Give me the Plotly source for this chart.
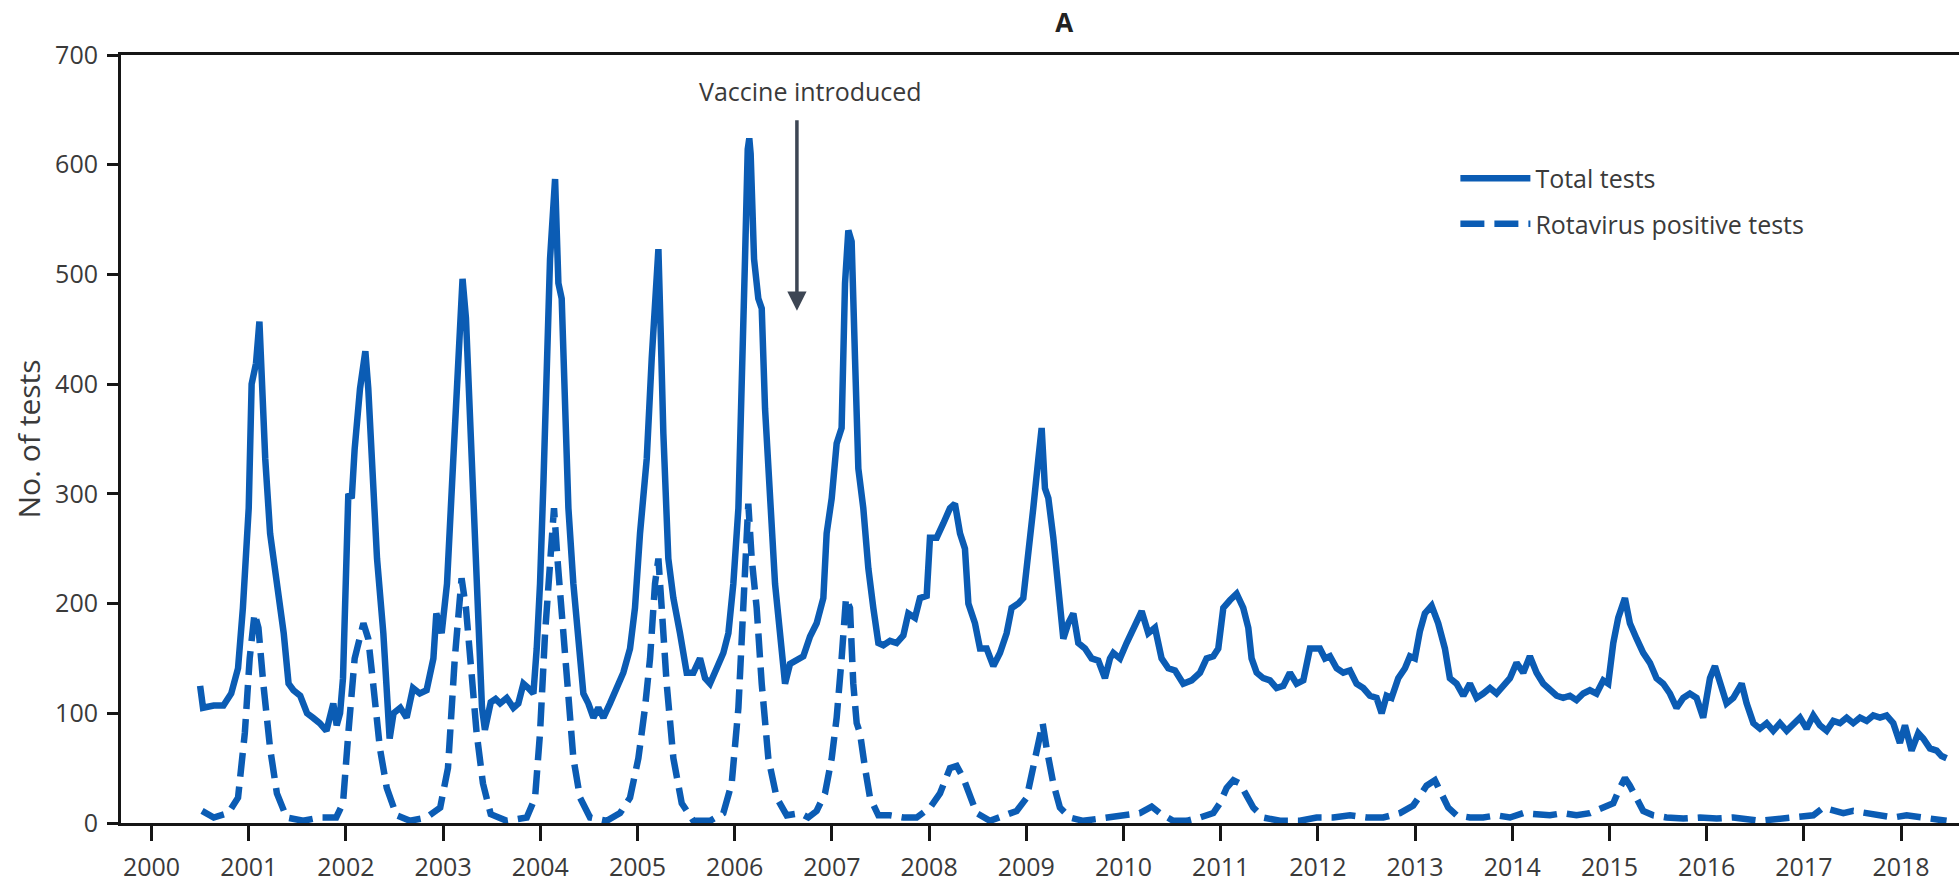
import plotly.graph_objects as go

# ---------------- data ----------------
years = list(range(2000, 2019))
y_ticks = [0, 100, 200, 300, 400, 500, 600, 700]

total_year = [
    2000.50, 2000.53, 2000.64, 2000.74, 2000.82, 2000.89, 2000.94, 2001.00, 2001.03, 2001.075,
    2001.11, 2001.13, 2001.17, 2001.22, 2001.29, 2001.36, 2001.41, 2001.46, 2001.53, 2001.60,
    2001.66, 2001.73, 2001.80, 2001.87, 2001.905, 2001.94, 2001.97, 2002.025, 2002.06, 2002.09,
    2002.145, 2002.20, 2002.23, 2002.265, 2002.32, 2002.385, 2002.45, 2002.49, 2002.56, 2002.625,
    2002.69, 2002.76, 2002.83, 2002.90, 2002.93, 2002.985, 2003.04, 2003.105, 2003.155, 2003.20,
    2003.235, 2003.27, 2003.31, 2003.36, 2003.40, 2003.43, 2003.49, 2003.54, 2003.586, 2003.654,
    2003.723, 2003.774, 2003.826, 2003.877, 2003.929, 2003.963, 2003.997, 2004.032, 2004.066, 2004.100,
    2004.152, 2004.186, 2004.220, 2004.254, 2004.289, 2004.340, 2004.392, 2004.443, 2004.494, 2004.546,
    2004.597, 2004.649, 2004.717, 2004.786, 2004.854, 2004.923, 2004.974, 2005.026, 2005.060, 2005.095,
    2005.146, 2005.191, 2005.215, 2005.239, 2005.266, 2005.317, 2005.369, 2005.437, 2005.506, 2005.575,
    2005.643, 2005.695, 2005.746, 2005.815, 2005.883, 2005.935, 2005.986, 2006.038, 2006.072, 2006.106,
    2006.134, 2006.150, 2006.164, 2006.199, 2006.243, 2006.278, 2006.312, 2006.363, 2006.415, 2006.466,
    2006.518, 2006.569, 2006.637, 2006.706, 2006.775, 2006.843, 2006.912, 2006.946, 2006.998, 2007.049,
    2007.100, 2007.135, 2007.169, 2007.203, 2007.238, 2007.272, 2007.323, 2007.375, 2007.426, 2007.478,
    2007.529, 2007.598, 2007.666, 2007.735, 2007.786, 2007.855, 2007.906, 2007.975, 2008.009, 2008.078,
    2008.146, 2008.215, 2008.266, 2008.318, 2008.369, 2008.404, 2008.472, 2008.524, 2008.592, 2008.661,
    2008.729, 2008.798, 2008.849, 2008.918, 2008.969, 2009.021, 2009.072, 2009.124, 2009.158, 2009.192,
    2009.227, 2009.278, 2009.329, 2009.381, 2009.432, 2009.484, 2009.535, 2009.604, 2009.672, 2009.741,
    2009.809, 2009.861, 2009.895, 2009.964, 2010.032, 2010.101, 2010.187, 2010.255, 2010.324, 2010.392,
    2010.461, 2010.530, 2010.615, 2010.701, 2010.787, 2010.855, 2010.924, 2010.975, 2011.027, 2011.095,
    2011.164, 2011.232, 2011.284, 2011.318, 2011.370, 2011.438, 2011.507, 2011.575, 2011.644, 2011.712,
    2011.781, 2011.850, 2011.918, 2011.970, 2012.021, 2012.073, 2012.124, 2012.193, 2012.261, 2012.330,
    2012.398, 2012.467, 2012.535, 2012.604, 2012.656, 2012.707, 2012.758, 2012.827, 2012.896, 2012.947,
    2012.998, 2013.050, 2013.101, 2013.170, 2013.238, 2013.307, 2013.358, 2013.427, 2013.496, 2013.564,
    2013.633, 2013.701, 2013.770, 2013.838, 2013.907, 2013.976, 2014.044, 2014.113, 2014.181, 2014.250,
    2014.319, 2014.387, 2014.456, 2014.524, 2014.593, 2014.661, 2014.730, 2014.799, 2014.867, 2014.936,
    2014.987, 2015.039, 2015.090, 2015.159, 2015.210, 2015.279, 2015.347, 2015.416, 2015.484, 2015.553,
    2015.622, 2015.690, 2015.759, 2015.827, 2015.896, 2015.964, 2016.034, 2016.085, 2016.137, 2016.205,
    2016.274, 2016.360, 2016.411, 2016.480, 2016.548, 2016.617, 2016.685, 2016.754, 2016.823, 2016.891,
    2016.960, 2017.028, 2017.097, 2017.165, 2017.234, 2017.303, 2017.371, 2017.440, 2017.508, 2017.577,
    2017.646, 2017.714, 2017.783, 2017.851, 2017.920, 2017.988, 2018.040, 2018.108, 2018.177, 2018.228,
    2018.297, 2018.366, 2018.417, 2018.468,
]
total_count = [
    125, 105, 107, 107, 118, 141, 196, 287, 400, 419,
    457, 414, 332, 264, 218, 173, 127, 121, 116, 100,
    96, 91, 84, 109, 89, 100, 132, 300, 296, 341,
    396, 430, 396, 332, 241, 173, 77, 100, 105, 96,
    123, 118, 121, 150, 191, 173, 218, 332, 423, 496,
    460, 378, 287, 173, 105, 85, 110, 113, 109, 114,
    105, 109, 127, 123, 118, 159, 218, 310, 423, 514,
    587, 492, 478, 378, 287, 218, 173, 118, 109, 96,
    105, 96, 109, 123, 137, 159, 196, 264, 291, 332,
    423, 505, 523, 446, 355, 241, 205, 173, 137, 137,
    150, 132, 127, 141, 155, 173, 218, 287, 378, 514,
    614, 624, 610, 514, 478, 469, 378, 287, 218, 173,
    127, 145, 148, 152, 170, 182, 205, 264, 296, 346,
    360, 492, 540, 530, 423, 323, 287, 232, 196, 164,
    162, 166, 164, 171, 191, 187, 205, 207, 260, 260,
    273, 287, 291, 264, 250, 200, 182, 159, 159, 143,
    155, 173, 196, 200, 205, 241, 287, 332, 360, 305,
    296, 260, 218, 168, 182, 191, 164, 159, 150, 148,
    132, 150, 155, 150, 164, 178, 193, 173, 178, 150,
    141, 139, 127, 130, 137, 150, 152, 159, 196, 203,
    209, 196, 178, 150, 137, 132, 130, 123, 125, 137,
    127, 130, 159, 159, 159, 150, 152, 141, 137, 139,
    127, 123, 116, 114, 100, 116, 114, 132, 141, 152,
    150, 175, 191, 198, 182, 159, 132, 127, 116, 127,
    114, 118, 123, 118, 125, 132, 146, 137, 152, 137,
    127, 121, 116, 114, 116, 112, 118, 121, 118, 130,
    127, 164, 187, 205, 182, 168, 155, 146, 132, 127,
    118, 105, 114, 118, 114, 96, 132, 143, 127, 109,
    114, 127, 109, 91, 86, 91, 84, 91, 84, 91,
    96, 86, 98, 89, 84, 93, 91, 96, 91, 96,
    93, 98, 96, 98, 91, 73, 89, 66, 82, 77,
    68, 66, 61, 59,
]

positive_year = [
    2000.52, 2000.64, 2000.79, 2000.89, 2000.96, 2001.01, 2001.06, 2001.10, 2001.15, 2001.22,
    2001.29, 2001.39, 2001.56, 2001.73, 2001.90, 2001.97, 2002.025, 2002.09, 2002.18, 2002.23,
    2002.28, 2002.35, 2002.42, 2002.52, 2002.66, 2002.83, 2002.97, 2003.05, 2003.12, 2003.19,
    2003.235, 2003.28, 2003.345, 2003.41, 2003.49, 2003.654, 2003.860, 2003.946, 2003.997, 2004.049,
    2004.100, 2004.141, 2004.176, 2004.220, 2004.272, 2004.340, 2004.409, 2004.512, 2004.683, 2004.820,
    2004.923, 2005.009, 2005.077, 2005.129, 2005.180, 2005.215, 2005.249, 2005.300, 2005.369, 2005.455,
    2005.575, 2005.746, 2005.883, 2005.969, 2006.038, 2006.089, 2006.140, 2006.175, 2006.226, 2006.278,
    2006.346, 2006.432, 2006.535, 2006.672, 2006.757, 2006.843, 2006.929, 2006.998, 2007.049, 2007.100,
    2007.145, 2007.186, 2007.220, 2007.255, 2007.289, 2007.341, 2007.392, 2007.478, 2007.598, 2007.735,
    2007.872, 2008.009, 2008.112, 2008.215, 2008.284, 2008.352, 2008.421, 2008.489, 2008.626, 2008.763,
    2008.901, 2009.004, 2009.072, 2009.124, 2009.168, 2009.209, 2009.278, 2009.346, 2009.449, 2009.586,
    2009.758, 2009.895, 2010.032, 2010.169, 2010.290, 2010.375, 2010.512, 2010.649, 2010.787, 2010.924,
    2010.992, 2011.061, 2011.130, 2011.198, 2011.267, 2011.335, 2011.438, 2011.610, 2011.815, 2011.987,
    2012.158, 2012.330, 2012.501, 2012.673, 2012.844, 2012.981, 2013.067, 2013.118, 2013.204, 2013.273,
    2013.341, 2013.427, 2013.564, 2013.701, 2013.838, 2013.976, 2014.113, 2014.250, 2014.387, 2014.524,
    2014.661, 2014.799, 2014.936, 2015.039, 2015.107, 2015.159, 2015.210, 2015.279, 2015.347, 2015.450,
    2015.587, 2015.759, 2015.930, 2016.102, 2016.273, 2016.548, 2016.754, 2016.960, 2017.097, 2017.200,
    2017.303, 2017.406, 2017.508, 2017.646, 2017.783, 2017.920, 2018.057, 2018.194, 2018.331, 2018.468,
]
positive_count = [
    11, 5, 9, 23, 82, 150, 191, 178, 127, 68,
    27, 5, 2, 5, 5, 18, 82, 150, 182, 168,
    127, 68, 32, 7, 2, 5, 14, 50, 150, 223,
    196, 150, 82, 36, 8, 2, 5, 23, 82, 173,
    241, 287, 241, 196, 127, 59, 23, 5, 2, 9,
    23, 59, 105, 150, 218, 241, 196, 127, 59, 18,
    2, 2, 9, 36, 105, 196, 291, 241, 196, 127,
    59, 23, 7, 9, 5, 11, 27, 59, 96, 150,
    205, 196, 127, 91, 82, 50, 23, 7, 7, 5,
    5, 14, 27, 50, 52, 41, 23, 9, 2, 7,
    11, 23, 50, 77, 91, 68, 36, 14, 5, 2,
    4, 5, 7, 9, 15, 9, 2, 2, 5, 9,
    18, 32, 39, 36, 25, 14, 5, 2, 2, 5,
    5, 7, 5, 5, 9, 16, 27, 34, 39, 27,
    14, 7, 5, 5, 7, 5, 9, 8, 7, 9,
    7, 9, 14, 18, 32, 41, 34, 23, 11, 7,
    5, 4, 5, 4, 5, 2, 4, 7, 7, 14,
    11, 9, 11, 9, 8, 5, 7, 5, 4, 2,
]

vaccine_year = 2006.64
vaccine_arrow_tip = 467
vaccine_arrow_tail = 642
vaccine_label_year = 2006.775
vaccine_label_value = 667

# ---------------- styling ----------------
BLUE = "#0b5cb4"
TEXT = "#3a3a3a"
AXIS = "#161616"
FONT = "Open Sans"

fig = go.Figure()
fig.add_trace(go.Scatter(
    x=total_year, y=total_count, mode="lines", name="Total tests",
    legendgroup="total", line=dict(color=BLUE, width=6.5),
))
fig.add_trace(go.Scatter(
    x=positive_year, y=positive_count, mode="lines", name="Rotavirus positive tests",
    legendgroup="positive", line=dict(color=BLUE, width=6.5, dash="24px,10px"),
))

fig.add_annotation(
    x=vaccine_year, y=vaccine_arrow_tip, ax=vaccine_year, ay=vaccine_arrow_tail,
    xref="x", yref="y", axref="x", ayref="y", text="", showarrow=True,
    arrowhead=2, arrowsize=1.1, arrowwidth=3.5, arrowcolor="#3d4654", standoff=0,
)
fig.add_annotation(
    x=vaccine_label_year, y=vaccine_label_value, xref="x", yref="y",
    text="Vaccine introduced", showarrow=False,
    font=dict(family=FONT, size=25, color=TEXT),
)

fig.update_layout(
    width=1959, height=883,
    margin=dict(l=121, r=0, t=55, b=51, pad=0),
    paper_bgcolor="white", plot_bgcolor="white",
    font=dict(family=FONT, color=TEXT),
    title=dict(text="A", x=0.5432, xanchor="center", y=0.9745, yanchor="middle",
               font=dict(family=FONT, size=26, color="#222222", weight="bold")),
    showlegend=True,
    legend=dict(x=0.726, y=0.869, xanchor="left", yanchor="top",
                font=dict(family=FONT, size=25, color=TEXT),
                bgcolor="rgba(0,0,0,0)", traceorder="grouped", tracegroupgap=10,
                itemwidth=70),
    xaxis=dict(
        range=[1999.686, 2018.596], tickmode="array", tickvals=years,
        ticktext=[str(y) for y in years], ticks="outside", ticklen=15, tickwidth=3,
        tickcolor=AXIS, showline=True, linewidth=3, linecolor=AXIS, mirror=True,
        showgrid=False, zeroline=False, tickfont=dict(family=FONT, size=25, color=TEXT),
        ticklabelstandoff=5,
    ),
    yaxis=dict(
        range=[0, 700], tickmode="array", tickvals=y_ticks,
        ticks="outside", ticklen=11, tickwidth=3, tickcolor=AXIS,
        showline=True, linewidth=3, linecolor=AXIS, showgrid=False, zeroline=False,
        tickfont=dict(family=FONT, size=25, color=TEXT), ticklabelstandoff=4,
        title=dict(text="No. of tests", font=dict(family=FONT, size=30, color=TEXT), standoff=6),
    ),
)

fig.write_html(
    "out.html",
    config={"displayModeBar": False},
    post_script="document.body.style.margin='0';",
)
